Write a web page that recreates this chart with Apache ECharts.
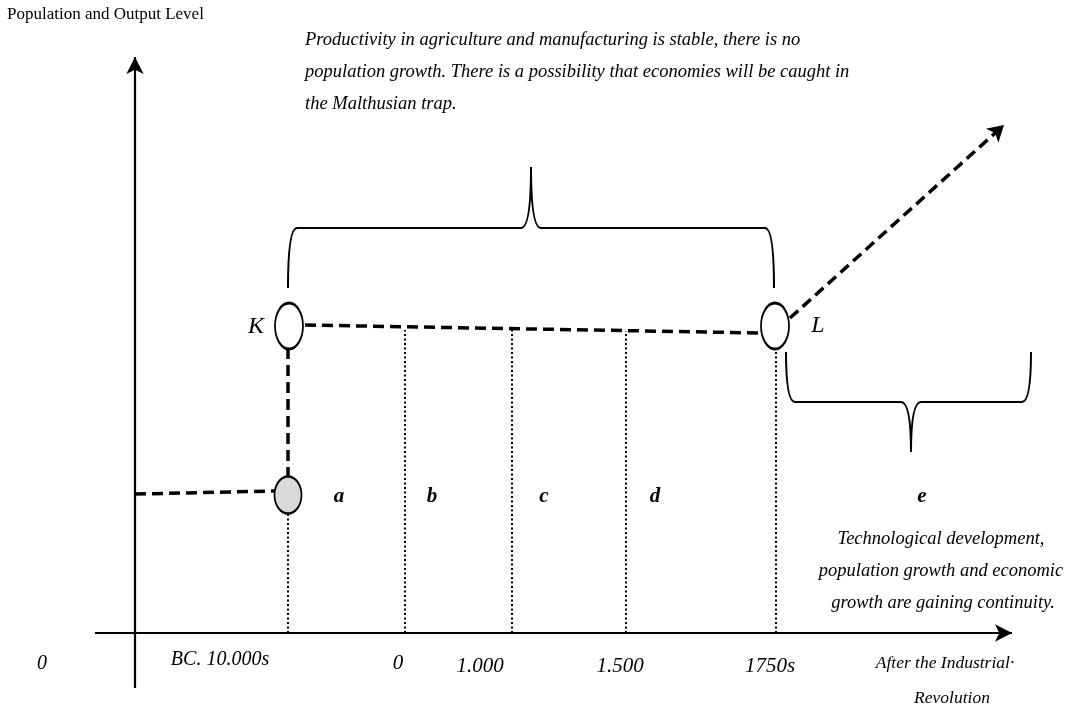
<!DOCTYPE html>
<html><head><meta charset="utf-8">
<script src="https://cdn.jsdelivr.net/npm/echarts@6/dist/echarts.min.js"></script>
<style>html,body{margin:0;padding:0;background:#fff}#c{width:1069px;height:711px}</style>
</head><body><div id="c"></div>
<script>
const SERIF = "'Liberation Serif','Times New Roman',serif";
// conceptual units, axis origin at (0,0)
const yTitle = 'Population and Output Level';
const eraBoundaryX = [153, 270, 377, 491, 641];      // BC 10.000s, 0, 1.000, 1.500, 1750s
const eraBoundaryTop = [120, 303, 303, 302, 286];
const periodLabels = ['a', 'b', 'c', 'd', 'e'];
const periodLabelX = [204, 297, 409, 520, 787];
const periodLabelY = [136, 136, 136, 136, 136];
const tickLabels = ['0', 'BC. 10.000s', '0', '1.000', '1.500', '1750s', 'After the Industrial·', 'Revolution'];
const tickLabelX = [-93, 85, 263, 345, 485, 635, 810, 817];
const tickLabelY = [-31, -27, -30, -33, -33, -33, -30, -65];
const preLevel = [[0, 139], [141, 142]];
const jumpLine = [[153, 155], [153, 285]];
const plateau = [[170, 308], [626, 300]];
const growth = [[655, 315], [869, 508]];
const startPoint = [[153, 138]];
const turnPointNames = ['K', 'L'];
const turnPoints = [[154, 307], [640, 307]];
const turnLabelX = [121, 683];
const turnLabelY = [306, 307];
const topNote = ['Productivity in agriculture and manufacturing is stable, there is no',
  'population growth. There is a possibility that economies will be caught in',
  'the Malthusian trap.'];
const topNoteX = [170, 170, 170];
const topNoteY = [593, 561, 529];
const rightNote = ['Technological development,', 'population growth and economic', 'growth are gaining continuity.'];
const rightNoteX = [806, 806, 808];
const rightNoteY = [94, 62, 30];
// braces: [xLeft, xRight, xTip, yEnds, yBar, yTip]
const braces = [[153, 639, 396, 345, 405, 466], [651, 896, 776, 281, 231, 181]];
const xAxisLine = [[-40, 0], [877, 0]];
const yAxisLine = [[0, -55], [0, 576]];

const chart = echarts.init(document.getElementById('c'));

function textSeries(texts, xs, ys, style, pos) {
  return {
    type: 'scatter', symbolSize: 0, silent: true, z: 10,
    itemStyle: { opacity: 1 },
    data: texts.map((t, i) => ({ value: [xs[i], ys[i]], name: t })),
    label: Object.assign({ show: true, position: pos || 'inside', formatter: p => p.name,
      color: '#000', fontFamily: SERIF, distance: 0 }, style)
  };
}

const blackDash = { color: '#000', width: 3.5, type: [11, 6] };

const option = {
  animation: false,
  title: { text: yTitle, left: 2, top: 1,
    textStyle: { fontFamily: SERIF, fontSize: 17, fontWeight: 'normal', color: '#000' } },
  grid: { left: 0, right: 0, top: 0, bottom: 0 },
  xAxis: { type: 'value', min: -135, max: 934, show: false },
  yAxis: { type: 'value', min: -78, max: 633, show: false },
  series: [
    // axes
    { type: 'line', data: [], silent: true,
      markLine: { silent: true, symbol: ['none', 'arrow'], symbolSize: [13, 17], label: { show: false },
        lineStyle: { color: '#000', width: 2.2, type: 'solid' },
        data: [[{ coord: xAxisLine[0] }, { coord: xAxisLine[1] }], [{ coord: yAxisLine[0] }, { coord: yAxisLine[1] }]] } },
    // dotted era boundaries
    ...eraBoundaryX.map((x, i) => ({ type: 'line', silent: true, symbol: 'none',
      lineStyle: { color: '#000', width: 2, type: [2, 2.5] }, data: [[x, 0], [x, eraBoundaryTop[i]]] })),
    // dashed path
    { type: 'line', silent: true, symbol: 'none', lineStyle: blackDash, data: preLevel },
    { type: 'line', silent: true, symbol: 'none', lineStyle: blackDash, data: jumpLine },
    { type: 'line', silent: true, symbol: 'none', lineStyle: blackDash, data: plateau },
    { type: 'line', data: [], silent: true,
      markLine: { silent: true, symbol: ['none', 'arrow'], symbolSize: [14, 16], label: { show: false },
        lineStyle: blackDash, data: [[{ coord: growth[0] }, { coord: growth[1] }]] } },
    // braces
    { type: 'custom', silent: true, z: 5,
      data: braces.map(b => [b[0], b[3]]),
      renderItem: (params, api) => {
        const b = braces[params.dataIndex];
        const pL = api.coord([b[0], b[3]]), pR = api.coord([b[1], b[3]]);
        const bar = api.coord([b[2], b[4]])[1];
        const tip = api.coord([b[2], b[5]]);
        const c = 9, t = 10;
        const d = `M${pL[0]},${pL[1]} Q${pL[0]},${bar} ${pL[0] + c},${bar} L${tip[0] - t},${bar} Q${tip[0]},${bar} ${tip[0]},${tip[1]} Q${tip[0]},${bar} ${tip[0] + t},${bar} L${pR[0] - c},${bar} Q${pR[0]},${bar} ${pR[0]},${pR[1]}`;
        return { type: 'path', shape: { pathData: d }, style: { fill: null, stroke: '#000', lineWidth: 2 } };
      } },
    // points
    { type: 'scatter', silent: true, z: 8, symbol: 'circle', symbolSize: [27, 37], data: startPoint,
      itemStyle: { color: '#d9d9d9', borderColor: '#000', borderWidth: 2, opacity: 1 } },
    { type: 'scatter', silent: true, z: 8, symbol: 'circle', symbolSize: [28, 46], data: turnPoints,
      itemStyle: { color: '#fff', borderColor: '#000', borderWidth: 2.2, opacity: 1 } },
    textSeries(turnPointNames, turnLabelX, turnLabelY, { fontSize: 24, fontStyle: 'italic' }),
    textSeries(periodLabels, periodLabelX, periodLabelY, { fontSize: 21, fontStyle: 'italic', fontWeight: 'bold' }),
    textSeries(tickLabels.slice(0, 1), tickLabelX.slice(0, 1), tickLabelY.slice(0, 1), { fontSize: 20, fontStyle: 'italic' }),
    textSeries(tickLabels.slice(1, 2), tickLabelX.slice(1, 2), tickLabelY.slice(1, 2), { fontSize: 20, fontStyle: 'italic' }),
    textSeries(tickLabels.slice(2, 6), tickLabelX.slice(2, 6), tickLabelY.slice(2, 6), { fontSize: 21, fontStyle: 'italic' }),
    textSeries(tickLabels.slice(6), tickLabelX.slice(6), tickLabelY.slice(6), { fontSize: 17.5, fontStyle: 'italic' }),
    textSeries(topNote, topNoteX, topNoteY, { fontSize: 18.5, fontStyle: 'italic' }, 'right'),
    textSeries(rightNote, rightNoteX, rightNoteY, { fontSize: 18.5, fontStyle: 'italic' })
  ]
};
chart.setOption(option);
</script>
</body></html>
